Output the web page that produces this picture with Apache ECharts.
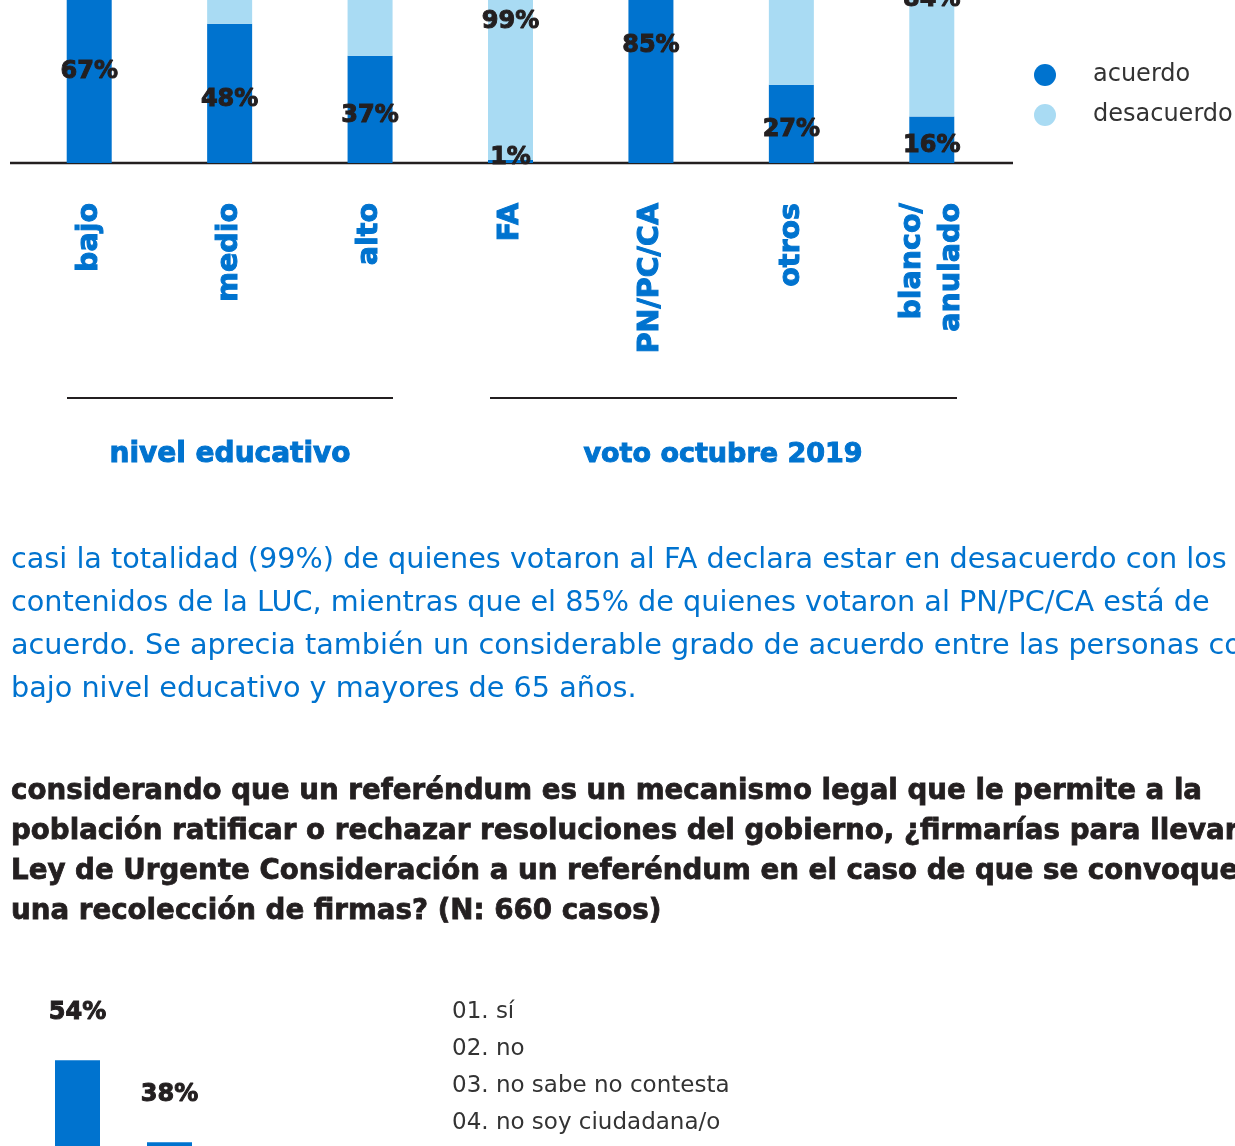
<!DOCTYPE html>
<html>
<head>
<meta charset="utf-8">
<script src="https://cdn.jsdelivr.net/npm/echarts@6/dist/echarts.min.js"></script>
<style>
  html, body { margin: 0; padding: 0; background: #fff; }
  #chart { width: 1235px; height: 1146px; }
</style>
</head>
<body>
<div id="chart"></div>
<script>
  // gráfico 1: acuerdo / desacuerdo por nivel educativo y voto
  const categorias = ['bajo', 'medio', 'alto', 'FA', 'PN/PC/CA', 'otros', 'blanco/\nanulado']
  const acuerdo = [67, 48, 37, 1, 85, 27, 16]
  const desacuerdo = [33, 52, 63, 99, 15, 73, 84]
  const grupos = ['nivel educativo', 'voto octubre 2019']

  // gráfico 2: firmarías para llevar la LUC a referéndum
  const opciones = ['01. sí', '02. no', '03. no sabe no contesta', '04. no soy ciudadana/o']
  const firmas = [54, 38, '-', '-']

  const textos = [
    'casi la totalidad (99%) de quienes votaron al FA declara estar en desacuerdo con los\n' +
    'contenidos de la LUC, mientras que el 85% de quienes votaron al PN/PC/CA está de\n' +
    'acuerdo. Se aprecia también un considerable grado de acuerdo entre las personas con\n' +
    'bajo nivel educativo y mayores de 65 años.',
    'considerando que un referéndum es un mecanismo legal que le permite a la\n' +
    'población ratificar o rechazar resoluciones del gobierno, ¿firmarías para llevar la\n' +
    'Ley de Urgente Consideración a un referéndum en el caso de que se convoque a\n' +
    'una recolección de firmas? (N: 660 casos)',
  ]

  const AZUL = '#0073cf'
  const CELESTE = '#a9dbf3'
  const NEGRO = '#231f20'
  const FONT = '"DejaVu Sans", sans-serif'

  // el trazo engorda la negrita para parecerse a la tipografía original
  const labelPct = {
    show: true, formatter: '{c}%', color: NEGRO, fontSize: 24, fontWeight: 'bold', fontFamily: FONT,
    textBorderColor: NEGRO, textBorderWidth: 1,
  }

  const chart = echarts.init(document.getElementById('chart'), null, { renderer: 'canvas' })

  const options = {
    animation: false,
    textStyle: { fontFamily: FONT },
    legend: {
      data: ['acuerdo', 'desacuerdo'],
      orient: 'vertical',
      left: 1029,
      top: 58,
      icon: 'circle',
      itemWidth: 22,
      itemHeight: 22,
      itemGap: 16,
      textStyle: { color: '#333', fontSize: 24, fontFamily: FONT, padding: [0, 0, 0, 32] },
    },
    grid: [
      { left: 19, width: 983, top: -127, height: 290, outerBoundsMode: 'none' },
      { left: 31.5, width: 368, top: 824.5, height: 512.5, outerBoundsMode: 'none' },
    ],
    xAxis: [
      {
        type: 'category',
        gridIndex: 0,
        data: categorias,
        axisLine: { show: false },
        axisTick: { show: false },
        axisLabel: {
          rotate: 90, margin: 40, color: AZUL, fontSize: 28.5, fontWeight: 'bold', fontFamily: FONT, lineHeight: 39,
          textBorderColor: AZUL, textBorderWidth: 1, padding: [8, 0, 0, 0],
        },
      },
      { type: 'category', gridIndex: 1, data: opciones, show: false },
    ],
    yAxis: [
      { type: 'value', gridIndex: 0, min: 0, max: 100, show: false },
      { type: 'value', gridIndex: 1, min: 0, max: 100, show: false },
    ],
    series: [
      {
        name: 'acuerdo', type: 'bar', stack: 'total', barWidth: 45, color: AZUL,
        xAxisIndex: 0, yAxisIndex: 0,
        label: { ...labelPct, position: 'inside', offset: [0, 6] },
        data: acuerdo.map(v => v < 5 ? { value: v, label: { position: 'insideBottom', distance: -1 } } : v),
      },
      {
        name: 'desacuerdo', type: 'bar', stack: 'total', barWidth: 45, color: CELESTE,
        xAxisIndex: 0, yAxisIndex: 0,
        label: { ...labelPct, position: 'inside', offset: [0, 5] },
        data: desacuerdo,
      },
      {
        name: 'firmas', type: 'bar', barWidth: 45, color: AZUL,
        xAxisIndex: 1, yAxisIndex: 1,
        label: { ...labelPct, position: 'top', distance: 35 },
        data: firmas,
      },
    ],
    graphic: [
      { type: 'line', shape: { x1: 10, y1: 163, x2: 1013, y2: 163 }, style: { stroke: NEGRO, lineWidth: 2.5 } },
      { type: 'line', shape: { x1: 67, y1: 398, x2: 393, y2: 398 }, style: { stroke: NEGRO, lineWidth: 2 } },
      { type: 'line', shape: { x1: 490, y1: 398, x2: 957, y2: 398 }, style: { stroke: NEGRO, lineWidth: 2 } },
      { type: 'text', x: 230, y: 455, style: { text: grupos[0], fill: AZUL, font: 'bold 28px ' + FONT, textAlign: 'center', textVerticalAlign: 'middle', stroke: AZUL, lineWidth: 1 } },
      { type: 'text', x: 723, y: 455, style: { text: grupos[1], fill: AZUL, font: 'bold 27px ' + FONT, textAlign: 'center', textVerticalAlign: 'middle', stroke: AZUL, lineWidth: 1 } },
      { type: 'text', x: 11, y: 539, style: { text: textos[0], fill: AZUL, font: '28.7px ' + FONT, lineHeight: 43, textVerticalAlign: 'top' } },
      { type: 'text', x: 11, y: 772, style: { text: textos[1], fill: NEGRO, font: 'bold 27.7px ' + FONT, lineHeight: 40, textVerticalAlign: 'top', stroke: NEGRO, lineWidth: 0.8 } },
      ...opciones.map((t, i) => ({
        type: 'text', x: 452, y: 1012 + i * 37,
        style: { text: t, fill: '#333', font: '23px ' + FONT, textVerticalAlign: 'middle' },
      })),
    ],
  }

  chart.setOption(options)
</script>
</body>
</html>
